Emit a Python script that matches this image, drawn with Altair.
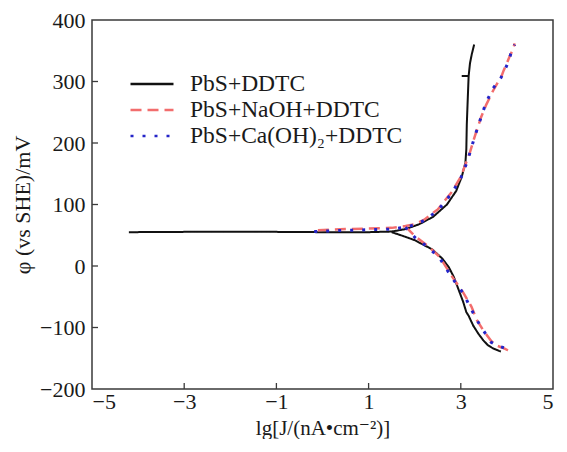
import altair as alt
import pandas as pd

series_names = ["PbS+DDTC", "PbS+NaOH+DDTC", "PbS+Ca(OH)₂+DDTC"]
series_colors = ["#111111", "#f26d6d", "#2424c8"]
series_dashes = [[1, 0], [11, 6], [3, 9]]
series_widths = [2.0, 2.5, 3.0]

# PbS+DDTC (black)
ddtc_an_x = [-4.2, -3.0, -1.0, 0.0, 1.0, 1.5, 1.8, 2.1, 2.4, 2.7, 2.9, 3.02, 3.1, 3.12, 3.13, 3.15, 3.17, 3.2, 3.24, 3.29]
ddtc_an_y = [55, 55.5, 55.5, 55, 55, 56, 60, 68, 80, 100, 122, 145, 168, 190, 230, 270, 309, 330, 345, 360]
ddtc_ca_x = [1.5, 1.74, 2.0, 2.38, 2.6, 2.74, 2.85, 2.95, 3.05, 3.12, 3.17, 3.27, 3.38, 3.49, 3.59, 3.7, 3.83, 3.87]
ddtc_ca_y = [55, 49, 42, 27, 12, -2, -18, -38, -58, -75, -81, -97, -110, -121, -129, -134, -138, -139]
ddtc_mark_x = [3.02, 3.17]
ddtc_mark_y = [309, 309]

# PbS+NaOH+DDTC (red dashed)
naoh_an_x = [-0.1, 0.5, 1.0, 1.5, 1.8, 2.0, 2.2, 2.5, 2.8, 3.0, 3.1, 3.2, 3.3, 3.44, 3.55, 3.7, 3.8, 3.87, 3.93, 4.0, 4.06, 4.12, 4.17]
naoh_an_y = [58, 60, 61, 62, 65, 68, 75, 92, 120, 145, 165, 185, 210, 242, 262, 285, 298, 306, 318, 330, 341, 350, 362]
naoh_ca_x = [1.8, 2.01, 2.3, 2.55, 2.8, 3.06, 3.23, 3.35, 3.49, 3.66, 3.8, 3.94, 4.02, 4.1]
naoh_ca_y = [64, 48, 32, 14, -16, -44, -66, -88, -105, -122, -130, -134, -137, -140]

# PbS+Ca(OH)2+DDTC (blue dotted)
caoh_an_x = [-0.18, 0.5, 1.0, 1.5, 1.8, 2.0, 2.2, 2.5, 2.8, 3.0, 3.1, 3.17, 3.3, 3.44, 3.55, 3.7, 3.87, 3.95, 4.04, 4.08, 4.17]
caoh_an_y = [56, 58, 59, 60, 63, 67, 74, 90, 118, 143, 162, 177, 210, 242, 266, 289, 306, 318, 333, 344, 360]
caoh_ca_x = [1.8, 2.01, 2.3, 2.55, 2.8, 3.06, 3.19, 3.35, 3.49, 3.66, 3.8, 3.94, 4.05]
caoh_ca_y = [63, 46, 30, 12, -18, -45, -65, -88, -105, -124, -130, -133, -137]

x_tick_labels = [-5, -3, -1, 1, 3, 5]
x_inner_ticks = [-3, -1, 1, 3]
y_tick_labels = [-200, -100, 0, 100, 200, 300, 400]
y_inner_ticks = [-100, 0, 100, 200, 300]

rows = []
def add(series, branch, xs, ys):
    for i, (a, b) in enumerate(zip(xs, ys)):
        rows.append({"series": series, "branch": series + branch, "i": i, "x": a, "y": b})

add(series_names[0], "an", ddtc_an_x, ddtc_an_y)
add(series_names[0], "ca", ddtc_ca_x, ddtc_ca_y)
add(series_names[0], "mk", ddtc_mark_x, ddtc_mark_y)
add(series_names[1], "an", naoh_an_x, naoh_an_y)
add(series_names[1], "ca", naoh_ca_x, naoh_ca_y)
add(series_names[2], "an", caoh_an_x, caoh_an_y)
add(series_names[2], "ca", caoh_ca_x, caoh_ca_y)
df = pd.DataFrame(rows)

W, H = 461, 369
FONT = "Liberation Serif, Times New Roman, Times, DejaVu Serif, serif"
TXT = "#1a1a1a"
FRAME = "#3a3a3a"

legend = alt.Legend(
    orient="none", legendX=48, legendY=52, title=None,
    symbolType="M-2,0H2", symbolSize=462, symbolStrokeWidth=2.4,
    labelFont=FONT, labelFontSize=23.5, labelColor=TXT, labelOffset=26, labelLimit=400,
    rowPadding=2, padding=0, symbolOffset=0,
)

xenc = alt.X("x:Q", scale=alt.Scale(domain=[-5, 5], nice=False, zero=False),
             axis=alt.Axis(values=x_tick_labels, ticks=False, domain=False, grid=False,
                           title="lg[J/(nA•cm⁻²)]", labelPadding=2, titleFontSize=21,
                           titleY=45, titleBaseline="alphabetic"))
yenc = alt.Y("y:Q", scale=alt.Scale(domain=[-200, 400], nice=False, zero=False),
             axis=alt.Axis(values=y_tick_labels, ticks=False, domain=False, grid=False,
                           title="φ (vs SHE)/mV", labelPadding=7,
                           titleX=-70, titleBaseline="middle"))

layers = []
for s, sw in zip(series_names, series_widths):
    layers.append(
        alt.Chart(df).transform_filter(alt.datum.series == s).mark_line(strokeWidth=sw).encode(
            x=xenc, y=yenc,
            color=alt.Color("series:N", scale=alt.Scale(domain=series_names, range=series_colors), legend=legend),
            strokeDash=alt.StrokeDash("series:N", scale=alt.Scale(domain=series_names, range=series_dashes), legend=legend),
            detail="branch:N",
            order=alt.Order("i:Q"),
        )
    )

xt = alt.Chart(pd.DataFrame({"x": x_inner_ticks})).mark_rule(color=FRAME, strokeWidth=1.3).encode(
    x="x:Q", y=alt.value(H), y2=alt.value(H - 6))
yt = alt.Chart(pd.DataFrame({"y": y_inner_ticks})).mark_rule(color=FRAME, strokeWidth=1.3).encode(
    y="y:Q", x=alt.value(0), x2=alt.value(6))

chart = alt.layer(xt, yt, *layers).properties(
    width=W, height=H,
    autosize=alt.AutoSizeParams(type="none"),
    padding={"left": 84, "top": 12, "right": 6, "bottom": 50},
).configure_view(stroke=FRAME, strokeWidth=1.5).configure_axis(
    labelFont=FONT, labelFontSize=22, labelColor=TXT,
    titleFont=FONT, titleFontSize=22, titleColor=TXT, titleFontWeight="normal",
)

chart.save("out.html", embed_options={"renderer": "svg", "actions": False})
